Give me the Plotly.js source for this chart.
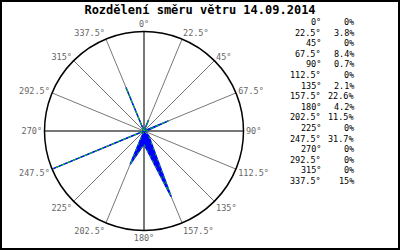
<!DOCTYPE html>
<html><head><meta charset="utf-8">
<script src="https://cdn.plot.ly/plotly-3.0.1.min.js"></script>
<style>
body{margin:0;padding:0;background:#fff}
#wrap{position:relative;width:400px;height:250px}
#plot{position:absolute;left:0;top:0;width:400px;height:250px}
#frame{position:absolute;left:0;top:0;width:400px;height:250px;box-sizing:border-box;border:2px solid #000;pointer-events:none}
</style></head>
<body><div id="wrap"><div id="plot"></div><div id="frame"></div></div>
<script>
const directions = [0, 22.5, 45, 67.5, 90, 112.5, 135, 157.5, 180, 202.5, 225, 247.5, 270, 292.5, 315, 337.5];
const dirLabels = ["0°","22.5°","45°","67.5°","90°","112.5°","135°","157.5°","180°","202.5°","225°","247.5°","270°","292.5°","315°","337.5°"];
const percents = [0, 3.8, 0, 8.4, 0.7, 0, 2.1, 22.6, 4.2, 11.5, 0, 31.7, 0, 0, 0, 15];
const pctLabels = ["0%","3.8%","0%","8.4%","0.7%","0%","2.1%","22.6%","4.2%","11.5%","0%","31.7%","0%","0%","0%","15%"];
const cardinalDirs = [0, 90, 180, 270];
const titleText = "Rozdělení směru větru 14.09.2014";

const rMax = Math.max(...percents);
const closedTheta = directions.concat([directions[0]]);
const closedR = percents.concat([percents[0]]);

const cardTheta = [], cardR = [];
cardinalDirs.forEach(d => { cardTheta.push(d, d, null); cardR.push(0, rMax, null); });

const traces = [
  {type:'scatterpolar', mode:'lines', theta:cardTheta, r:cardR, line:{color:'#777', width:2}, hoverinfo:'skip', connectgaps:false},
  {type:'scatterpolar', mode:'lines', theta:closedTheta, r:closedR, fill:'toself', fillcolor:'#0000ff', line:{color:'#0000ff', width:1.5}},
  {type:'scatterpolar', mode:'lines', theta:closedTheta, r:closedR, line:{color:'#00dd00', width:0.8, dash:'dot'}}
];

const mono = "DejaVu Sans Mono, monospace";
const annotations = [];
const y0 = 22, dy = 10.6;
directions.forEach((d, i) => {
  const y = 1 - (y0 + dy*i)/250;
  annotations.push({xref:'paper', yref:'paper', x:323/400, y:y, xanchor:'right', yanchor:'middle', text:dirLabels[i], showarrow:false, font:{family:mono, size:8.5, color:'#000'}});
  annotations.push({xref:'paper', yref:'paper', x:356/400, y:y, xanchor:'right', yanchor:'middle', text:pctLabels[i], showarrow:false, font:{family:mono, size:8.5, color:'#000'}});
});

const layout = {
  width:400, height:250,
  margin:{l:0, r:0, t:0, b:0},
  paper_bgcolor:'#fff',
  showlegend:false,
  title:{text:titleText, font:{family:mono, size:12, color:'#000', weight:'bold'}, x:0.5, xanchor:'center', y:1-10/250, yanchor:'middle', yref:'container'},
  polar:{
    domain:{x:[44.5/400, 243.5/400], y:[1-230.5/250, 1-31.5/250]},
    bgcolor:'#fff',
    radialaxis:{range:[0, rMax], visible:false, showgrid:false},
    angularaxis:{
      rotation:90, direction:'clockwise',
      tickmode:'array', tickvals:directions, ticktext:dirLabels,
      ticks:'', showline:true, linecolor:'#000', linewidth:1.5,
      showgrid:true, gridcolor:'#777', gridwidth:1,
      tickfont:{family:mono, size:8.5, color:'#666'}
    }
  },
  annotations:annotations
};
Plotly.newPlot('plot', traces, layout, {staticPlot:true, displayModeBar:false});
</script></body></html>
